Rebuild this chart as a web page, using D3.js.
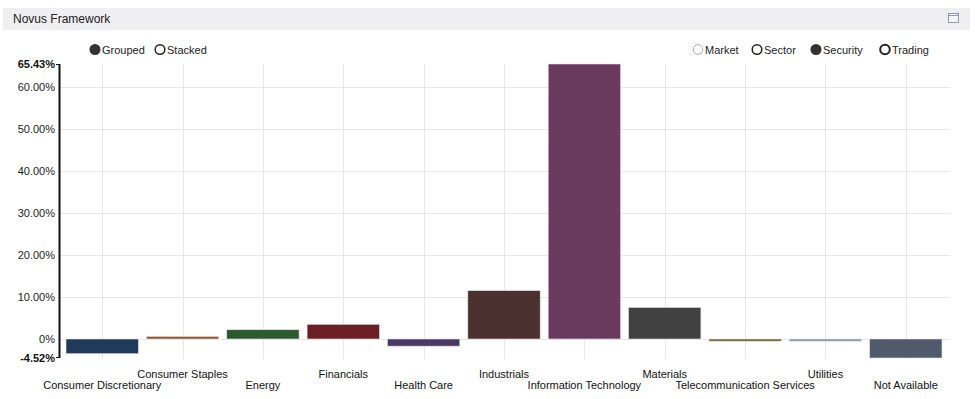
<!DOCTYPE html>
<html>
<head>
<meta charset="utf-8">
<script src="https://cdn.jsdelivr.net/npm/d3@7"></script>
<style>
  body { margin: 0; background: #fff; font-family: "Liberation Sans", Arial, sans-serif; }
</style>
</head>
<body>
<div id="chart"></div>
<script>
// Données
const sectors = ["Consumer Discretionary", "Consumer Staples", "Energy", "Financials", "Health Care",
  "Industrials", "Information Technology", "Materials", "Telecommunication Services", "Utilities", "Not Available"];
const values = [-3.5, 0.6, 2.2, 3.5, -1.7, 11.5, 65.43, 7.5, -0.5, -0.3, -4.52];
const colors = ["#1f3a5a", "#8a5a2c", "#2b5a2e", "#6a1f25", "#4b3a63", "#4a302e", "#6a3a5e",
  "#414141", "#6b6a2c", "#7f9c9c", "#4f5b6b"];
const yTicks = [0, 10, 20, 30, 40, 50, 60];
const yMin = -4.52, yMax = 65.43;
const modeLegend = [{ label: "Grouped", on: true }, { label: "Stacked", on: false }];
const levelLegend = [{ label: "Market", state: "off" }, { label: "Sector", state: "hollow" },
  { label: "Security", state: "on" }, { label: "Trading", state: "bold" }];

const W = 975, H = 399;
const fs = "11px";
const svg = d3.select("#chart").append("svg").attr("width", W).attr("height", H);

// Barre de titre
svg.append("rect").attr("x", 3).attr("y", 8).attr("width", 967).attr("height", 22).attr("fill", "#efeef0");
svg.append("text").attr("x", 13).attr("y", 23).text("Novus Framework")
  .style("font-size", "12px").attr("fill", "#222");
svg.append("rect").attr("x", 948.5).attr("y", 13.5).attr("width", 10).attr("height", 9)
  .attr("fill", "#f4f6fa").attr("stroke", "#8a9ab4");
svg.append("line").attr("x1", 949).attr("x2", 958).attr("y1", 15.5).attr("y2", 15.5).attr("stroke", "#8a9ab4");

// Echelles
const x = d3.scaleBand().domain(sectors).range([62, 946]).paddingInner(0.1).paddingOuter(0.05);
const y = d3.scaleLinear().domain([yMin, yMax]).range([358, 64]);

// Grille
svg.append("g").selectAll("line").data(yTicks).join("line")
  .attr("x1", 59).attr("x2", 950)
  .attr("y1", d => Math.round(y(d)) + 0.5).attr("y2", d => Math.round(y(d)) + 0.5)
  .attr("stroke", "#e8e8e8");
svg.append("g").selectAll("line").data(sectors).join("line")
  .attr("x1", d => Math.round(x(d) + x.bandwidth() / 2) + 0.5)
  .attr("x2", d => Math.round(x(d) + x.bandwidth() / 2) + 0.5)
  .attr("y1", 64).attr("y2", 359)
  .attr("stroke", "#e8e8e8");

// Barres
svg.append("g").selectAll("rect").data(values).join("rect")
  .attr("x", (d, i) => x(sectors[i]))
  .attr("width", x.bandwidth())
  .attr("y", d => y(Math.max(0, d)))
  .attr("height", d => Math.max(2.2, Math.abs(y(d) - y(0))))
  .attr("fill", (d, i) => colors[i])
  .attr("stroke", "#e6dbe3").attr("stroke-width", 0.6);

// Axe Y
svg.append("line").attr("x1", 59.5).attr("x2", 59.5).attr("y1", y(yMax)).attr("y2", y(yMin))
  .attr("stroke", "#111").attr("stroke-width", 2);
svg.append("line").attr("x1", 56).attr("x2", 60).attr("y1", y(yMax) + 0.5).attr("y2", y(yMax) + 0.5).attr("stroke", "#111");
svg.append("line").attr("x1", 56).attr("x2", 60).attr("y1", y(yMin) - 0.5).attr("y2", y(yMin) - 0.5).attr("stroke", "#111");
svg.append("g").selectAll("text").data(yTicks).join("text")
  .attr("x", 55).attr("y", d => y(d) + 4)
  .attr("text-anchor", "end").style("font-size", fs).attr("fill", "#222")
  .text(d => d === 0 ? "0%" : d.toFixed(2) + "%");
[yMax, yMin].forEach(v => {
  svg.append("text").attr("x", 55).attr("y", y(v) + 4)
    .attr("text-anchor", "end").style("font-size", fs).style("font-weight", "bold").attr("fill", "#111")
    .text(v.toFixed(2) + "%");
});

// Etiquettes X (deux rangées alternées)
svg.append("g").selectAll("text").data(sectors).join("text")
  .attr("x", d => x(d) + x.bandwidth() / 2)
  .attr("y", (d, i) => i % 2 === 1 ? 378 : 389)
  .attr("text-anchor", "middle").style("font-size", fs).attr("fill", "#111")
  .text(d => d);

// Légendes
function radio(g, cx, cy, state) {
  if (state === "on") g.append("circle").attr("cx", cx).attr("cy", cy).attr("r", 5.5).attr("fill", "#333");
  else g.append("circle").attr("cx", cx).attr("cy", cy).attr("r", 4.8).attr("fill", "#fff")
    .attr("stroke", state === "off" ? "#aaa" : "#222")
    .attr("stroke-width", state === "bold" ? 2 : state === "off" ? 1 : 1.5);
}
const lg = svg.append("g");
[95, 160].forEach((cx, i) => {
  radio(lg, cx, 49.5, modeLegend[i].on ? "on" : "hollow");
  lg.append("text").attr("x", cx + 7).attr("y", 53.5).text(modeLegend[i].label).style("font-size", fs).attr("fill", "#222");
});
[698, 757, 816, 885].forEach((cx, i) => {
  radio(lg, cx, 49.5, levelLegend[i].state);
  lg.append("text").attr("x", cx + 7).attr("y", 53.5).text(levelLegend[i].label).style("font-size", fs).attr("fill", "#222");
});
</script>
</body>
</html>
